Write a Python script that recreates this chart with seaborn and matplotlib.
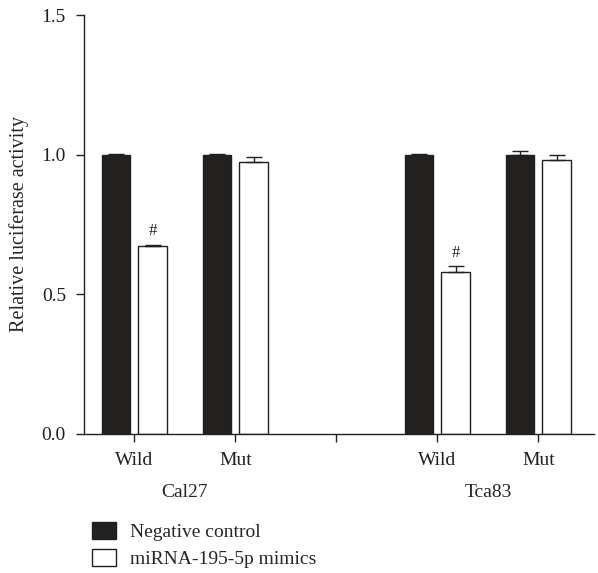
import pandas as pd
import seaborn as sns
import matplotlib.pyplot as plt

# values
groups = ["Cal27 Wild", "Cal27 Mut", "gap", "Tca83 Wild", "Tca83 Mut"]
tick_labels = ["Wild", "Mut", "", "Wild", "Mut"]
treatments = ["Negative control", "miRNA-195-5p mimics"]
nc_values = [1.0, 1.0, 1.0, 1.0]
nc_errors = [0.003, 0.003, 0.003, 0.013]
mimic_values = [0.672, 0.972, 0.580, 0.982]
mimic_errors = [0.005, 0.018, 0.021, 0.018]
data_groups = ["Cal27 Wild", "Cal27 Mut", "Tca83 Wild", "Tca83 Mut"]
significant = [True, False, True, False]

df = pd.DataFrame({
    "group": data_groups * 2,
    "treatment": [treatments[0]] * 4 + [treatments[1]] * 4,
    "value": nc_values + mimic_values,
})

sns.set_style("ticks")
plt.rcParams['font.family'] = ['Liberation Serif', 'DejaVu Serif']
plt.rcParams['font.size'] = 14

fig = plt.figure(figsize=(5.98, 5.73), dpi=100)
ax = fig.add_axes([84 / 598, 139 / 573, 510 / 598, 419 / 573])

sns.barplot(data=df, x="group", y="value", hue="treatment", order=groups,
            hue_order=treatments, palette=["#231f20", "white"],
            width=0.72, gap=0.22, errorbar=None, edgecolor="#231f20",
            linewidth=1.0, ax=ax)

# error bars (upper half only) on top of each bar
errs = {treatments[0]: nc_errors, treatments[1]: mimic_errors}
vals = {treatments[0]: nc_values, treatments[1]: mimic_values}
for container, t in zip(ax.containers, treatments):
    xs = [p.get_x() + p.get_width() / 2 for p in container.patches]
    ax.errorbar(xs, vals[t], yerr=[[0] * len(xs), errs[t]], fmt="none",
                ecolor="#231f20", elinewidth=1.0, capsize=6, capthick=1.0,
                zorder=1)
    if t == treatments[1]:
        for x, v, e, s in zip(xs, vals[t], errs[t], significant):
            if s:
                ax.text(x, v + e + 0.02, "#", ha="center", va="bottom",
                        fontsize=12, color="#231f20")

ax.set_ylim(0, 1.5)
ax.set_xlim(-0.5, 4.55)
ax.set_yticks([0.0, 0.5, 1.0, 1.5])
ax.set_yticklabels(["0.0", "0.5", "1.0", "1.5"])
ax.set_xticks(range(len(groups)))
ax.set_xticklabels(tick_labels)
ax.set_xlabel("")
ax.set_ylabel("Relative luciferase activity", fontsize=14.5, labelpad=9)
ax.tick_params(axis="both", direction="out", length=6, width=1.0,
               colors="#231f20", labelsize=14, pad=7)
sns.despine(ax=ax)
for s in ["left", "bottom"]:
    ax.spines[s].set_linewidth(1.0)
    ax.spines[s].set_color("#231f20")

trans = ax.get_xaxis_transform()
ax.text(0.5, -0.14, "Cal27", transform=trans, ha="center", va="center",
        fontsize=14)
ax.text(3.5, -0.14, "Tca83", transform=trans, ha="center", va="center",
        fontsize=14)

handles, labels = ax.get_legend_handles_labels()
ax.get_legend().remove()
fig.legend(handles, labels, loc="lower left",
           bbox_to_anchor=(82 / 598, -5 / 573), frameon=False,
           handlelength=1.25, handleheight=0.95, labelspacing=0.4,
           handletextpad=0.7, borderpad=0, fontsize=14)

plt.savefig("out.png", dpi=100)
